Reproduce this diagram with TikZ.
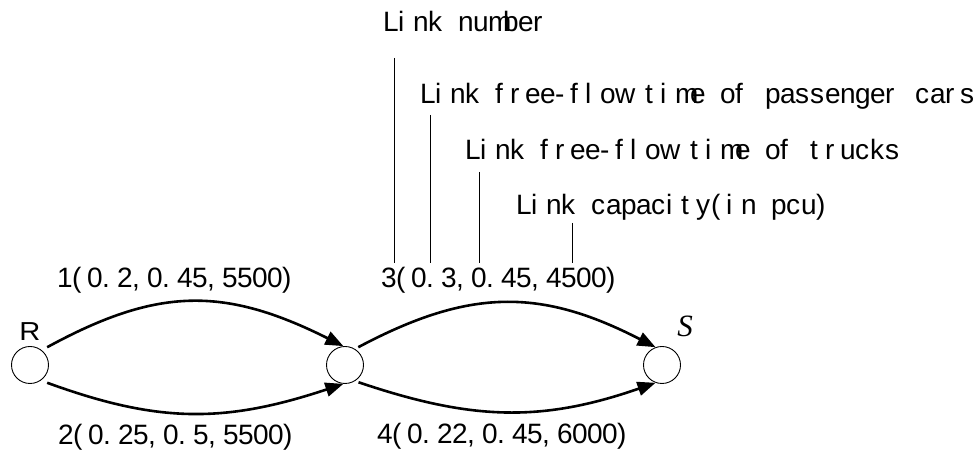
\documentclass[tikz,border=0pt]{standalone}
\usepackage{fontspec}
\setmainfont{Liberation Sans}
\newfontfamily\serifface{Liberation Serif}
\usetikzlibrary{arrows.meta}
\newlength\cellw
\setlength\cellw{15pt}
\makeatletter
\def\cells#1{\cells@loop#1\cells@end}
\def\cells@end{\cells@end}
\def\cells@loop#1{\ifx#1\cells@end\else\makebox[\cellw][l]{#1}\expandafter\cells@loop\fi}
\makeatother
\begin{document}
\begin{tikzpicture}[x=1pt,y=1pt,
  nd/.style={circle,draw,line width=0.9pt,minimum size=37pt,inner sep=0pt},
  edge/.style={line width=2.6pt,-{Triangle[length=18pt,width=14pt]}},
  tick/.style={line width=1pt},
  lab/.style={anchor=base west,inner sep=0pt,font=\fontsize{28}{28}\selectfont},
]
\useasboundingbox (0,0) rectangle (978,454);
% nodes
\node[nd,outer sep=6.2pt] (R) at (30,89) {};
\node[nd] (M) at (345,89) {};
\node[nd] (S) at (662,89) {};
\node[anchor=base,inner sep=0pt,font=\fontsize{26}{26}\selectfont] (Rl) at (30,113) {\scalebox{1.12}[1]{R}};
\node[anchor=base,inner sep=0pt,font=\serifface\itshape\fontsize{31}{31}\selectfont] (Sl) at (685,117) {S};
% edges
\draw[edge] (R.46.6) to[out=28.6,in=153.4,out distance=125pt,in distance=134pt] (M.95);
\draw[edge] (R.-46.6) to[out=-20,in=198.4,out distance=117pt,in distance=126.5pt] (M.265);
\draw[edge,shorten <=3.7pt] (M.58) to[out=28,in=152.8,out distance=130pt,in distance=129pt] (S.110);
\draw[edge,shorten <=3.7pt] (M.-58) to[out=-18.7,in=199.2,out distance=121.5pt,in distance=122pt] (S.250);
% link labels
\node[lab] (n1) at (57,166) {\cells{1(0.2,0.45,5500)}};
\node[lab] (n2) at (58,9) {\cells{2(0.25,0.5,5500)}};
\node[lab] (n3) at (381,166) {\cells{3(0.3,0.45,4500)}};
\node[lab] (n4) at (377,10) {\cells{4(0.22,0.45,6000)}};
% legend labels
\node[lab] (t1) at (383,422) {\cells{Link~number}};
\node[lab] (t2) at (420,350) {\cells{Link~free-flow~time~of~passenger~cars}};
\node[lab] (t3) at (465,294) {\cells{Link~free-flow~time~of~trucks}};
\node[lab] (t4) at (516,239) {\cells{Link~capacity(in~pcu)}};
% leader lines
\coordinate (a1) at (394,396); \coordinate (b1) at (394,191);
\coordinate (a2) at (430,339); \coordinate (b2) at (430,191);
\coordinate (a3) at (479,282); \coordinate (b3) at (479,191);
\coordinate (a4) at (572,231); \coordinate (b4) at (572,191);
\draw[tick] (a1) -- (b1);
\draw[tick] (a2) -- (b2);
\draw[tick] (a3) -- (b3);
\draw[tick] (a4) -- (b4);
\end{tikzpicture}
\end{document}
